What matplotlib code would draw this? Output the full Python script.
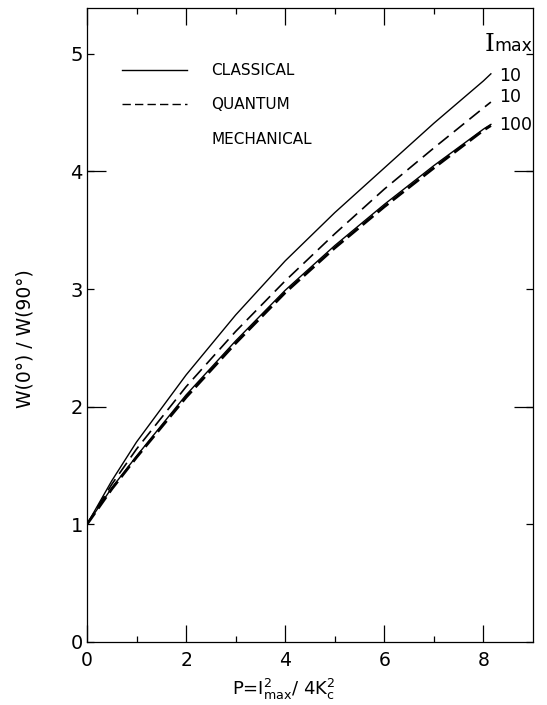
"""Angular anisotropy W(0)/W(90) against P, classical vs quantum mechanical."""

import matplotlib

matplotlib.use("Agg")
import matplotlib.pyplot as plt
from matplotlib.lines import Line2D

# values
P = [0.0, 0.5, 1, 2, 3, 4, 5, 6, 7, 8, 8.15]
CLASSICAL_10 = [1.00, 1.37, 1.70, 2.27, 2.78, 3.24, 3.65, 4.03, 4.41, 4.77, 4.83]
QUANTUM_10 = [1.00, 1.34, 1.64, 2.17, 2.64, 3.07, 3.47, 3.85, 4.20, 4.54, 4.59]
CLASSICAL_100 = [1.00, 1.31, 1.58, 2.10, 2.56, 2.99, 3.37, 3.72, 4.05, 4.36, 4.40]
QUANTUM_100 = [1.00, 1.30, 1.57, 2.08, 2.54, 2.97, 3.35, 3.70, 4.03, 4.35, 4.39]
END_LABELS = ["10", "10", "100"]
LEGEND_LABELS = ["CLASSICAL", "QUANTUM", "MECHANICAL"]
X_TICKS = [0, 2, 4, 6, 8]
X_MINOR = [1, 3, 5, 7]
Y_TICKS = [0, 1, 2, 3, 4, 5]
Y_LONG = [2, 4]


def plot_ratio(output="out.png"):
    fig = plt.figure(figsize=(5.47, 7.05), dpi=100)
    axis = fig.add_axes([0.159, 0.0894, 0.8154, 0.8993])

    axis.plot(P, CLASSICAL_10, color="black", lw=1.0)
    axis.plot(P, QUANTUM_10, color="black", lw=1.2, dashes=(8, 4))
    axis.plot(P, CLASSICAL_100, color="black", lw=1.0)
    axis.plot(P, QUANTUM_100, color="black", lw=2.0, dashes=(5, 2))

    for values, label, dy in zip(
        (CLASSICAL_10, QUANTUM_10, QUANTUM_100), END_LABELS, (-1.5, 3.5, 0.5)
    ):
        axis.annotate(
            label,
            (P[-1], values[-1]),
            xytext=(6, dy),
            textcoords="offset points",
            ha="left",
            va="center",
            fontsize=12.5,
        )
    axis.text(8.02, 5.02, "I", family="DejaVu Serif", fontsize=18, va="baseline")
    axis.text(8.22, 5.02, "max", fontsize=12.5, va="baseline")

    handles = [
        Line2D([], [], color="black", lw=1.0),
        Line2D([], [], color="black", lw=1.0, dashes=(6, 3)),
        Line2D([], [], linestyle="none"),
    ]
    axis.legend(
        handles,
        LEGEND_LABELS,
        loc="upper left",
        bbox_to_anchor=(0.078, 0.913),
        frameon=False,
        fontsize=11,
        handlelength=4.3,
        handletextpad=1.57,
        labelspacing=1.26,
        borderpad=0,
        borderaxespad=0,
    )

    axis.set_xlim(0, 9)
    axis.set_ylim(0, 5.39)
    axis.set_xticks(X_TICKS)
    axis.set_xticks(X_MINOR, minor=True)
    axis.set_yticks(Y_TICKS)
    axis.set_yticks(Y_LONG, minor=True)
    axis.yaxis.remove_overlapping_locs = False
    axis.tick_params(axis="x", which="major", direction="in", top=True,
                     length=12, width=0.9, pad=6.5, labelsize=13.5)
    axis.tick_params(axis="x", which="minor", direction="in", top=True,
                     length=4, width=0.9)
    axis.tick_params(axis="y", which="major", direction="in", right=True,
                     length=5, width=0.9, pad=3, labelsize=14)
    axis.tick_params(axis="y", which="minor", direction="in", right=True,
                     length=14, width=0.9)
    for spine in axis.spines.values():
        spine.set_linewidth(0.9)

    axis.set_xlabel(r"P=$\mathregular{I^2_{max}}$/ 4K$\mathregular{^2_c}$", fontsize=13)
    axis.xaxis.set_label_coords(0.44, -0.055)
    axis.set_ylabel("W(0°) / W(90°)", fontsize=13.5)
    axis.yaxis.set_label_coords(-0.117, 0.478)

    fig.savefig(output, dpi=100)
    return fig


def main() -> None:
    plot_ratio()
    plt.close("all")


if __name__ == "__main__":
    main()
